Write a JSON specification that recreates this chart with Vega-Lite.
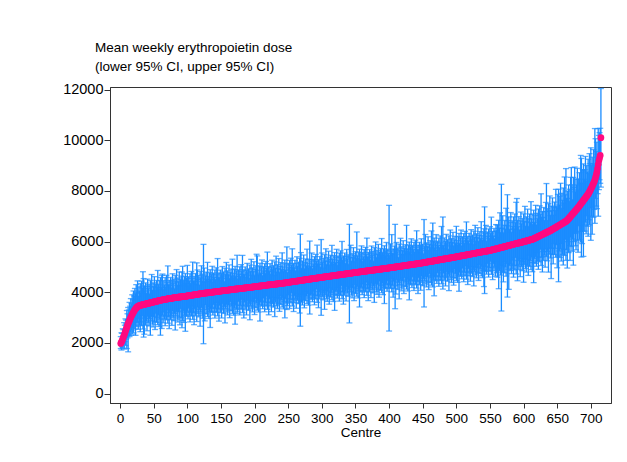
{
"$schema": "https://vega.github.io/schema/vega-lite/v6.json",
"width": 501, "height": 316,
"autosize": {"type": "none"},
"padding": {"left": 110, "top": 87, "right": 16, "bottom": 59},
"background": "white",
"config": {"view": {"stroke": "#333333", "strokeWidth": 1}, "font": "Liberation Sans"},
"title": {"text": ["Mean weekly erythropoietin dose", "(lower 95% CI, upper 95% CI)"], "anchor": "start", "frame": "group", "dx": -15, "fontSize": 13.5, "fontWeight": "normal", "font": "Liberation Sans", "color": "#000000", "lineHeight": 19, "offset": 8},
"data": {"values": [
{"c":1,"m":1980,"l":1780,"u":2250},{"c":2,"m":2030,"l":1720,"u":2400},{"c":3,"m":2090,"l":1850,"u":2380},{"c":4,"m":2160,"l":1800,"u":2560},{"c":5,"m":2230,"l":1950,"u":2520},
{"c":6,"m":2300,"l":1760,"u":2800},{"c":7,"m":2380,"l":2050,"u":2700},{"c":8,"m":2460,"l":1900,"u":2950},{"c":9,"m":2540,"l":2150,"u":2900},{"c":10,"m":2620,"l":1780,"u":3280},
{"c":11,"m":2690,"l":2200,"u":3150},{"c":12,"m":2760,"l":1650,"u":3400},{"c":13,"m":2830,"l":2300,"u":3300},{"c":14,"m":2890,"l":2250,"u":3600},{"c":15,"m":2950,"l":2450,"u":3450},
{"c":16,"m":3010,"l":2300,"u":3750},{"c":17,"m":3070,"l":2500,"u":3550},{"c":18,"m":3120,"l":2350,"u":3900},{"c":19,"m":3170,"l":2600,"u":3700},{"c":20,"m":3220,"l":2400,"u":4050},
{"c":21,"m":3270,"l":2700,"u":3850},{"c":22,"m":3310,"l":2550,"u":4150},{"c":23,"m":3350,"l":2300,"u":3950},{"c":24,"m":3380,"l":2800,"u":4300},{"c":25,"m":3410,"l":2650,"u":4000},
{"c":26,"m":3430,"l":2830,"u":4450},{"c":27,"m":3450,"l":2540,"u":3840},{"c":28,"m":3465,"l":2975,"u":4215},{"c":29,"m":3475,"l":2705,"u":4045},{"c":30,"m":3485,"l":2445,"u":4345},
{"c":31,"m":3490,"l":2830,"u":3970},{"c":32,"m":3500,"l":2680,"u":4440},{"c":33,"m":3505,"l":3075,"u":4165},{"c":34,"m":3510,"l":2550,"u":4810},{"c":35,"m":3520,"l":2230,"u":4540},
{"c":36,"m":3525,"l":2345,"u":4245},{"c":37,"m":3530,"l":2980,"u":4050},{"c":38,"m":3540,"l":2700,"u":4370},{"c":39,"m":3545,"l":2865,"u":3955},{"c":40,"m":3550,"l":2480,"u":4240},
{"c":41,"m":3560,"l":3050,"u":4520},{"c":42,"m":3565,"l":2805,"u":4145},{"c":43,"m":3570,"l":2670,"u":4310},{"c":44,"m":3580,"l":2960,"u":3930},{"c":45,"m":3585,"l":2305,"u":4465},
{"c":46,"m":3590,"l":2870,"u":4210},{"c":47,"m":3600,"l":3060,"u":4700},{"c":48,"m":3605,"l":2745,"u":4075},{"c":49,"m":3610,"l":2630,"u":4370},{"c":50,"m":3620,"l":3040,"u":4220},
{"c":51,"m":3625,"l":2835,"u":4615},{"c":52,"m":3630,"l":2530,"u":4060},{"c":53,"m":3640,"l":3170,"u":4320},{"c":54,"m":3645,"l":2815,"u":4465},{"c":55,"m":3650,"l":3000,"u":4190},
{"c":56,"m":3660,"l":2720,"u":4860},{"c":57,"m":3665,"l":3105,"u":4305},{"c":58,"m":3670,"l":2650,"u":4130},{"c":59,"m":3680,"l":2940,"u":4460},{"c":60,"m":3685,"l":2305,"u":4585},
{"c":61,"m":3690,"l":3060,"u":4190},{"c":62,"m":3695,"l":2570,"u":4670},{"c":63,"m":3700,"l":3100,"u":4720},{"c":64,"m":3705,"l":2795,"u":4095},{"c":65,"m":3710,"l":3220,"u":4460},
{"c":66,"m":3715,"l":2945,"u":4285},{"c":67,"m":3720,"l":2680,"u":4580},{"c":68,"m":3725,"l":3065,"u":4205},{"c":69,"m":3730,"l":2910,"u":4670},{"c":70,"m":3735,"l":3305,"u":4395},
{"c":71,"m":3740,"l":2780,"u":5040},{"c":72,"m":3745,"l":3045,"u":4295},{"c":73,"m":3745,"l":2565,"u":4465},{"c":74,"m":3750,"l":3200,"u":4270},{"c":75,"m":3755,"l":2915,"u":4585},
{"c":76,"m":3760,"l":3080,"u":4170},{"c":77,"m":3765,"l":2695,"u":4455},{"c":78,"m":3770,"l":3260,"u":4730},{"c":79,"m":3775,"l":3015,"u":4355},{"c":80,"m":3780,"l":2880,"u":4520},
{"c":81,"m":3785,"l":3165,"u":4135},{"c":82,"m":3790,"l":2510,"u":4670},{"c":83,"m":3790,"l":3070,"u":4410},{"c":84,"m":3795,"l":3255,"u":4895},{"c":85,"m":3800,"l":2940,"u":4270},
{"c":86,"m":3805,"l":2825,"u":4565},{"c":87,"m":3810,"l":3230,"u":4410},{"c":88,"m":3810,"l":3020,"u":4800},{"c":89,"m":3815,"l":2715,"u":4245},{"c":90,"m":3820,"l":3350,"u":4500},
{"c":91,"m":3820,"l":2990,"u":4640},{"c":92,"m":3825,"l":2600,"u":4800},{"c":93,"m":3825,"l":2885,"u":5025},{"c":94,"m":3830,"l":3270,"u":4470},{"c":95,"m":3830,"l":2810,"u":4290},
{"c":96,"m":3835,"l":3095,"u":4615},{"c":97,"m":3840,"l":2460,"u":4740},{"c":98,"m":3845,"l":3215,"u":4345},{"c":99,"m":3850,"l":3050,"u":4560},{"c":100,"m":3855,"l":3255,"u":5060},
{"c":101,"m":3860,"l":2950,"u":4250},{"c":102,"m":3865,"l":3375,"u":4615},{"c":103,"m":3870,"l":3100,"u":4440},{"c":104,"m":3870,"l":2830,"u":4730},{"c":105,"m":3875,"l":3215,"u":4355},
{"c":106,"m":3880,"l":3060,"u":4820},{"c":107,"m":3885,"l":3455,"u":4545},{"c":108,"m":3890,"l":2930,"u":5190},{"c":109,"m":3895,"l":3195,"u":4445},{"c":110,"m":3900,"l":2720,"u":4620},
{"c":111,"m":3905,"l":3355,"u":4425},{"c":112,"m":3910,"l":3070,"u":4740},{"c":113,"m":3910,"l":3230,"u":4320},{"c":114,"m":3915,"l":2845,"u":5160},{"c":115,"m":3920,"l":3410,"u":4880},
{"c":116,"m":3925,"l":3165,"u":4505},{"c":117,"m":3930,"l":3030,"u":4670},{"c":118,"m":3935,"l":3315,"u":4285},{"c":119,"m":3940,"l":2660,"u":4820},{"c":120,"m":3945,"l":3225,"u":4565},
{"c":121,"m":3945,"l":3405,"u":5045},{"c":122,"m":3950,"l":3090,"u":4420},{"c":123,"m":3955,"l":2975,"u":4715},{"c":124,"m":3960,"l":1970,"u":5890},{"c":125,"m":3965,"l":3175,"u":4955},
{"c":126,"m":3970,"l":2870,"u":4400},{"c":127,"m":3970,"l":3500,"u":4650},{"c":128,"m":3975,"l":3145,"u":4795},{"c":129,"m":3975,"l":3325,"u":4515},{"c":130,"m":3980,"l":3040,"u":5180},
{"c":131,"m":3980,"l":3420,"u":4620},{"c":132,"m":3985,"l":2965,"u":4445},{"c":133,"m":3985,"l":3245,"u":4765},{"c":134,"m":3990,"l":2610,"u":4890},{"c":135,"m":3995,"l":3365,"u":4495},
{"c":136,"m":4000,"l":3200,"u":4710},{"c":137,"m":4005,"l":3405,"u":5025},{"c":138,"m":4010,"l":3100,"u":4400},{"c":139,"m":4010,"l":3520,"u":4760},{"c":140,"m":4015,"l":3245,"u":4585},
{"c":141,"m":4020,"l":2980,"u":4880},{"c":142,"m":4020,"l":3360,"u":4500},{"c":143,"m":4025,"l":3205,"u":4965},{"c":144,"m":4030,"l":3600,"u":4690},{"c":145,"m":4030,"l":3070,"u":5330},
{"c":146,"m":4035,"l":3335,"u":4585},{"c":147,"m":4040,"l":2860,"u":4760},{"c":148,"m":4040,"l":3490,"u":4560},{"c":149,"m":4045,"l":3205,"u":4875},{"c":150,"m":4050,"l":3370,"u":4460},
{"c":151,"m":4055,"l":2985,"u":4745},{"c":152,"m":4055,"l":3545,"u":5015},{"c":153,"m":4060,"l":3300,"u":4640},{"c":154,"m":4065,"l":3165,"u":4805},{"c":155,"m":4065,"l":3445,"u":4415},
{"c":156,"m":4070,"l":2790,"u":4950},{"c":157,"m":4075,"l":3355,"u":4695},{"c":158,"m":4075,"l":3535,"u":5175},{"c":159,"m":4080,"l":3220,"u":4550},{"c":160,"m":4085,"l":3105,"u":4845},
{"c":161,"m":4085,"l":3505,"u":4685},{"c":162,"m":4090,"l":3300,"u":5080},{"c":163,"m":4095,"l":2995,"u":4525},{"c":164,"m":4095,"l":3625,"u":4775},{"c":165,"m":4100,"l":3270,"u":4920},
{"c":166,"m":4105,"l":3455,"u":4645},{"c":167,"m":4105,"l":3165,"u":5305},{"c":168,"m":4110,"l":3550,"u":4750},{"c":169,"m":4115,"l":3095,"u":4575},{"c":170,"m":4120,"l":3380,"u":4900},
{"c":171,"m":4120,"l":2740,"u":5020},{"c":172,"m":4125,"l":3495,"u":4625},{"c":173,"m":4130,"l":3330,"u":4840},{"c":174,"m":4130,"l":3160,"u":5460},{"c":175,"m":4135,"l":3225,"u":4525},
{"c":176,"m":4135,"l":3645,"u":4885},{"c":177,"m":4140,"l":3370,"u":4710},{"c":178,"m":4145,"l":3105,"u":5005},{"c":179,"m":4145,"l":3485,"u":4625},{"c":180,"m":4150,"l":3330,"u":5090},
{"c":181,"m":4155,"l":3725,"u":4815},{"c":182,"m":4155,"l":3195,"u":5455},{"c":183,"m":4160,"l":3460,"u":4710},{"c":184,"m":4165,"l":2985,"u":4885},{"c":185,"m":4165,"l":3615,"u":4685},
{"c":186,"m":4170,"l":3330,"u":5000},{"c":187,"m":4175,"l":3495,"u":4585},{"c":188,"m":4175,"l":3105,"u":4865},{"c":189,"m":4180,"l":3670,"u":5140},{"c":190,"m":4185,"l":3425,"u":4765},
{"c":191,"m":4185,"l":3285,"u":4925},{"c":192,"m":4190,"l":3570,"u":4540},{"c":193,"m":4195,"l":2915,"u":5075},{"c":194,"m":4195,"l":3475,"u":4815},{"c":195,"m":4200,"l":3660,"u":5300},
{"c":196,"m":4205,"l":3345,"u":4675},{"c":197,"m":4205,"l":3225,"u":4965},{"c":198,"m":4210,"l":3630,"u":4810},{"c":199,"m":4215,"l":3425,"u":5205},{"c":200,"m":4220,"l":3120,"u":4650},
{"c":201,"m":4225,"l":3755,"u":4905},{"c":202,"m":4225,"l":3395,"u":5045},{"c":203,"m":4230,"l":3580,"u":5500},{"c":204,"m":4235,"l":3295,"u":5435},{"c":205,"m":4235,"l":3675,"u":4875},
{"c":206,"m":4240,"l":3220,"u":4700},{"c":207,"m":4245,"l":3505,"u":5025},{"c":208,"m":4245,"l":2865,"u":5145},{"c":209,"m":4250,"l":3620,"u":4750},{"c":210,"m":4255,"l":3455,"u":4965},
{"c":211,"m":4255,"l":3655,"u":5275},{"c":212,"m":4260,"l":3350,"u":4650},{"c":213,"m":4265,"l":3775,"u":5015},{"c":214,"m":4265,"l":3495,"u":4835},{"c":215,"m":4270,"l":3230,"u":5130},
{"c":216,"m":4275,"l":3615,"u":4755},{"c":217,"m":4275,"l":3455,"u":5215},{"c":218,"m":4280,"l":3850,"u":4940},{"c":219,"m":4285,"l":3325,"u":5585},{"c":220,"m":4290,"l":3590,"u":4840},
{"c":221,"m":4290,"l":3110,"u":5010},{"c":222,"m":4295,"l":3745,"u":4815},{"c":223,"m":4300,"l":3460,"u":5130},{"c":224,"m":4300,"l":3620,"u":4710},{"c":225,"m":4305,"l":3235,"u":4995},
{"c":226,"m":4305,"l":3795,"u":5265},{"c":227,"m":4310,"l":3550,"u":4890},{"c":228,"m":4315,"l":3415,"u":5055},{"c":229,"m":4315,"l":3695,"u":4665},{"c":230,"m":4320,"l":3040,"u":5200},
{"c":231,"m":4325,"l":3605,"u":4945},{"c":232,"m":4325,"l":3785,"u":5425},{"c":233,"m":4330,"l":3470,"u":4800},{"c":234,"m":4335,"l":3355,"u":5095},{"c":235,"m":4335,"l":3755,"u":4935},
{"c":236,"m":4340,"l":3550,"u":5330},{"c":237,"m":4345,"l":3245,"u":4775},{"c":238,"m":4345,"l":3875,"u":5025},{"c":239,"m":4350,"l":3520,"u":5170},{"c":240,"m":4355,"l":3705,"u":4895},
{"c":241,"m":4355,"l":3415,"u":5555},{"c":242,"m":4360,"l":3800,"u":5000},{"c":243,"m":4365,"l":3345,"u":4825},{"c":244,"m":4365,"l":3625,"u":5145},{"c":245,"m":4370,"l":2990,"u":5270},
{"c":246,"m":4375,"l":3745,"u":4875},{"c":247,"m":4375,"l":3575,"u":5085},{"c":248,"m":4380,"l":3320,"u":5790},{"c":249,"m":4385,"l":3475,"u":4775},{"c":250,"m":4390,"l":3900,"u":5140},
{"c":251,"m":4395,"l":3625,"u":4965},{"c":252,"m":4400,"l":3360,"u":5260},{"c":253,"m":4400,"l":3740,"u":4880},{"c":254,"m":4405,"l":3585,"u":5345},{"c":255,"m":4410,"l":3980,"u":5070},
{"c":256,"m":4415,"l":3455,"u":5715},{"c":257,"m":4420,"l":3720,"u":4970},{"c":258,"m":4420,"l":3240,"u":5140},{"c":259,"m":4425,"l":3875,"u":4945},{"c":260,"m":4430,"l":3590,"u":5260},
{"c":261,"m":4435,"l":3755,"u":4845},{"c":262,"m":4440,"l":3370,"u":5130},{"c":263,"m":4440,"l":3930,"u":5400},{"c":264,"m":4445,"l":3685,"u":5025},{"c":265,"m":4450,"l":3550,"u":5190},
{"c":266,"m":4455,"l":3835,"u":4805},{"c":267,"m":4460,"l":3180,"u":5340},{"c":268,"m":4460,"l":2660,"u":6290},{"c":269,"m":4465,"l":3925,"u":5565},{"c":270,"m":4470,"l":3610,"u":4940},
{"c":271,"m":4475,"l":3495,"u":5235},{"c":272,"m":4480,"l":3900,"u":5080},{"c":273,"m":4480,"l":3690,"u":5470},{"c":274,"m":4485,"l":3385,"u":4915},{"c":275,"m":4490,"l":4020,"u":5170},
{"c":276,"m":4495,"l":3665,"u":5315},{"c":277,"m":4500,"l":3850,"u":5040},{"c":278,"m":4500,"l":3560,"u":5700},{"c":279,"m":4505,"l":3945,"u":5145},{"c":280,"m":4510,"l":3490,"u":4970},
{"c":281,"m":4515,"l":3775,"u":5295},{"c":282,"m":4520,"l":3140,"u":6020},{"c":283,"m":4520,"l":3890,"u":5020},{"c":284,"m":4525,"l":3725,"u":5235},{"c":285,"m":4530,"l":3930,"u":5550},
{"c":286,"m":4535,"l":3625,"u":4925},{"c":287,"m":4540,"l":4050,"u":5290},{"c":288,"m":4540,"l":3770,"u":5110},{"c":289,"m":4545,"l":3505,"u":5405},{"c":290,"m":4550,"l":3890,"u":5030},
{"c":291,"m":4555,"l":3735,"u":5495},{"c":292,"m":4560,"l":4130,"u":5220},{"c":293,"m":4560,"l":3600,"u":5860},{"c":294,"m":4565,"l":3865,"u":5115},{"c":295,"m":4570,"l":3390,"u":5290},
{"c":296,"m":4575,"l":4025,"u":5095},{"c":297,"m":4580,"l":3740,"u":5410},{"c":298,"m":4580,"l":3900,"u":4990},{"c":299,"m":4585,"l":3090,"u":6080},{"c":300,"m":4590,"l":4080,"u":5550},
{"c":301,"m":4595,"l":3835,"u":5175},{"c":302,"m":4600,"l":3700,"u":5340},{"c":303,"m":4600,"l":3980,"u":4950},{"c":304,"m":4605,"l":3325,"u":5485},{"c":305,"m":4610,"l":3890,"u":5230},
{"c":306,"m":4615,"l":4075,"u":5715},{"c":307,"m":4615,"l":3755,"u":5085},{"c":308,"m":4620,"l":3640,"u":5380},{"c":309,"m":4625,"l":4045,"u":5225},{"c":310,"m":4630,"l":3840,"u":5620},
{"c":311,"m":4630,"l":3530,"u":5060},{"c":312,"m":4635,"l":4165,"u":5315},{"c":313,"m":4640,"l":3810,"u":5460},{"c":314,"m":4645,"l":3995,"u":5185},{"c":315,"m":4650,"l":3710,"u":5850},
{"c":316,"m":4650,"l":4090,"u":5290},{"c":317,"m":4655,"l":3635,"u":5115},{"c":318,"m":4660,"l":3920,"u":5440},{"c":319,"m":4665,"l":3285,"u":5565},{"c":320,"m":4665,"l":4035,"u":5165},
{"c":321,"m":4670,"l":3870,"u":5380},{"c":322,"m":4675,"l":4075,"u":5695},{"c":323,"m":4680,"l":3770,"u":5070},{"c":324,"m":4680,"l":4190,"u":5430},{"c":325,"m":4685,"l":3915,"u":5255},
{"c":326,"m":4690,"l":3650,"u":5550},{"c":327,"m":4695,"l":4035,"u":5175},{"c":328,"m":4695,"l":3875,"u":5635},{"c":329,"m":4700,"l":4270,"u":5360},{"c":330,"m":4705,"l":3745,"u":6005},
{"c":331,"m":4710,"l":4010,"u":5260},{"c":332,"m":4710,"l":3530,"u":5430},{"c":333,"m":4715,"l":4165,"u":5235},{"c":334,"m":4720,"l":3880,"u":5550},{"c":335,"m":4725,"l":4045,"u":5135},
{"c":336,"m":4725,"l":3655,"u":5415},{"c":337,"m":4730,"l":4220,"u":5690},{"c":338,"m":4735,"l":3975,"u":5315},{"c":339,"m":4740,"l":3840,"u":5480},{"c":340,"m":4740,"l":4120,"u":5090},
{"c":341,"m":4745,"l":2790,"u":6680},{"c":342,"m":4750,"l":4030,"u":5370},{"c":343,"m":4755,"l":4215,"u":5855},{"c":344,"m":4755,"l":3895,"u":5225},{"c":345,"m":4760,"l":3780,"u":5520},
{"c":346,"m":4765,"l":4185,"u":5365},{"c":347,"m":4770,"l":3980,"u":5760},{"c":348,"m":4770,"l":3670,"u":5200},{"c":349,"m":4775,"l":4305,"u":5455},{"c":350,"m":4780,"l":3950,"u":5600},
{"c":351,"m":4785,"l":4135,"u":5325},{"c":352,"m":4785,"l":3845,"u":6380},{"c":353,"m":4790,"l":4230,"u":5430},{"c":354,"m":4795,"l":3775,"u":5255},{"c":355,"m":4800,"l":4060,"u":5580},
{"c":356,"m":4800,"l":3420,"u":5700},{"c":357,"m":4805,"l":4175,"u":5305},{"c":358,"m":4810,"l":4010,"u":5520},{"c":359,"m":4810,"l":4210,"u":5830},{"c":360,"m":4815,"l":3905,"u":5205},
{"c":361,"m":4820,"l":4330,"u":5570},{"c":362,"m":4825,"l":4055,"u":5395},{"c":363,"m":4825,"l":3785,"u":5685},{"c":364,"m":4830,"l":4170,"u":5310},{"c":365,"m":4835,"l":4015,"u":5775},
{"c":366,"m":4835,"l":4405,"u":5495},{"c":367,"m":4840,"l":3880,"u":6140},{"c":368,"m":4845,"l":4145,"u":5395},{"c":369,"m":4850,"l":3670,"u":5570},{"c":370,"m":4850,"l":4300,"u":5370},
{"c":371,"m":4855,"l":4015,"u":5685},{"c":372,"m":4860,"l":4180,"u":5270},{"c":373,"m":4860,"l":3790,"u":5550},{"c":374,"m":4865,"l":4355,"u":5825},{"c":375,"m":4870,"l":4110,"u":5450},
{"c":376,"m":4875,"l":3975,"u":5615},{"c":377,"m":4875,"l":4255,"u":5225},{"c":378,"m":4880,"l":3600,"u":5760},{"c":379,"m":4885,"l":4165,"u":5505},{"c":380,"m":4885,"l":4345,"u":5985},
{"c":381,"m":4890,"l":4030,"u":5360},{"c":382,"m":4895,"l":3915,"u":5655},{"c":383,"m":4900,"l":4320,"u":5500},{"c":384,"m":4900,"l":4110,"u":5890},{"c":385,"m":4905,"l":3805,"u":5335},
{"c":386,"m":4910,"l":4440,"u":5590},{"c":387,"m":4910,"l":4080,"u":5730},{"c":388,"m":4915,"l":4265,"u":5455},{"c":389,"m":4920,"l":3980,"u":6120},{"c":390,"m":4925,"l":4365,"u":5565},
{"c":391,"m":4925,"l":3905,"u":5385},{"c":392,"m":4930,"l":4190,"u":5710},{"c":393,"m":4935,"l":3555,"u":5835},{"c":394,"m":4935,"l":4305,"u":5435},{"c":395,"m":4940,"l":4140,"u":5650},
{"c":396,"m":4945,"l":4345,"u":5965},{"c":397,"m":4950,"l":4040,"u":5340},{"c":398,"m":4950,"l":4460,"u":5700},{"c":399,"m":4955,"l":4185,"u":5525},{"c":400,"m":4960,"l":2470,"u":7430},
{"c":401,"m":4965,"l":4305,"u":5445},{"c":402,"m":4970,"l":4150,"u":5910},{"c":403,"m":4970,"l":4540,"u":5630},{"c":404,"m":4975,"l":4015,"u":6275},{"c":405,"m":4980,"l":4280,"u":5530},
{"c":406,"m":4985,"l":3805,"u":5705},{"c":407,"m":4990,"l":4440,"u":5510},{"c":408,"m":4990,"l":4150,"u":5820},{"c":409,"m":4995,"l":3350,"u":6680},{"c":410,"m":5000,"l":3930,"u":5690},
{"c":411,"m":5005,"l":4495,"u":5965},{"c":412,"m":5010,"l":4250,"u":5590},{"c":413,"m":5010,"l":4110,"u":5750},{"c":414,"m":5015,"l":4395,"u":5365},{"c":415,"m":5020,"l":3740,"u":5900},
{"c":416,"m":5025,"l":4305,"u":5645},{"c":417,"m":5030,"l":4490,"u":6130},{"c":418,"m":5030,"l":4170,"u":5500},{"c":419,"m":5035,"l":4055,"u":5795},{"c":420,"m":5040,"l":4460,"u":5640},
{"c":421,"m":5045,"l":4255,"u":6035},{"c":422,"m":5050,"l":3950,"u":5480},{"c":423,"m":5050,"l":4580,"u":5730},{"c":424,"m":5055,"l":4225,"u":5875},{"c":425,"m":5060,"l":4410,"u":5600},
{"c":426,"m":5065,"l":4125,"u":6640},{"c":427,"m":5070,"l":4510,"u":5710},{"c":428,"m":5070,"l":4050,"u":5530},{"c":429,"m":5075,"l":4335,"u":5855},{"c":430,"m":5080,"l":3700,"u":5980},
{"c":431,"m":5085,"l":4455,"u":5585},{"c":432,"m":5090,"l":4290,"u":5800},{"c":433,"m":5090,"l":4490,"u":6110},{"c":434,"m":5095,"l":4185,"u":5485},{"c":435,"m":5100,"l":4610,"u":5850},
{"c":436,"m":5105,"l":4335,"u":5675},{"c":437,"m":5110,"l":4070,"u":5970},{"c":438,"m":5110,"l":4450,"u":5590},{"c":439,"m":5115,"l":4295,"u":6055},{"c":440,"m":5120,"l":4690,"u":5780},
{"c":441,"m":5125,"l":4165,"u":6425},{"c":442,"m":5130,"l":4430,"u":5680},{"c":443,"m":5130,"l":3950,"u":5850},{"c":444,"m":5135,"l":4585,"u":5655},{"c":445,"m":5140,"l":4300,"u":5970},
{"c":446,"m":5145,"l":4465,"u":5555},{"c":447,"m":5150,"l":4080,"u":5840},{"c":448,"m":5150,"l":4640,"u":6110},{"c":449,"m":5155,"l":4395,"u":5735},{"c":450,"m":5160,"l":4260,"u":5900},
{"c":451,"m":5165,"l":4545,"u":5515},{"c":452,"m":5170,"l":3420,"u":6870},{"c":453,"m":5175,"l":4455,"u":5795},{"c":454,"m":5180,"l":4640,"u":6280},{"c":455,"m":5185,"l":4325,"u":5655},
{"c":456,"m":5190,"l":4210,"u":5950},{"c":457,"m":5195,"l":4615,"u":5795},{"c":458,"m":5200,"l":4410,"u":6190},{"c":459,"m":5205,"l":4105,"u":5635},{"c":460,"m":5210,"l":4740,"u":5890},
{"c":461,"m":5215,"l":4385,"u":6035},{"c":462,"m":5220,"l":4570,"u":5760},{"c":463,"m":5220,"l":4280,"u":6420},{"c":464,"m":5225,"l":4665,"u":5865},{"c":465,"m":5230,"l":4210,"u":6730},
{"c":466,"m":5235,"l":4495,"u":6015},{"c":467,"m":5240,"l":3860,"u":6140},{"c":468,"m":5245,"l":4615,"u":5745},{"c":469,"m":5250,"l":4450,"u":5960},{"c":470,"m":5255,"l":4655,"u":6275},
{"c":471,"m":5260,"l":4350,"u":5650},{"c":472,"m":5265,"l":4775,"u":6015},{"c":473,"m":5270,"l":4500,"u":5840},{"c":474,"m":5275,"l":4235,"u":6135},{"c":475,"m":5280,"l":4620,"u":5760},
{"c":476,"m":5285,"l":4465,"u":6225},{"c":477,"m":5290,"l":4860,"u":5950},{"c":478,"m":5295,"l":4335,"u":6595},{"c":479,"m":5300,"l":4600,"u":5850},{"c":480,"m":5305,"l":4125,"u":6970},
{"c":481,"m":5310,"l":4760,"u":5830},{"c":482,"m":5315,"l":4475,"u":6145},{"c":483,"m":5320,"l":4640,"u":5730},{"c":484,"m":5320,"l":4250,"u":6010},{"c":485,"m":5325,"l":4815,"u":6285},
{"c":486,"m":5330,"l":4570,"u":5910},{"c":487,"m":5335,"l":4435,"u":6075},{"c":488,"m":5340,"l":4720,"u":5690},{"c":489,"m":5345,"l":4065,"u":6225},{"c":490,"m":5350,"l":4630,"u":5970},
{"c":491,"m":5355,"l":4815,"u":6455},{"c":492,"m":5360,"l":4500,"u":5830},{"c":493,"m":5365,"l":4385,"u":6125},{"c":494,"m":5370,"l":4790,"u":5970},{"c":495,"m":5375,"l":4585,"u":6365},
{"c":496,"m":5380,"l":4280,"u":5810},{"c":497,"m":5385,"l":4915,"u":6065},{"c":498,"m":5390,"l":4560,"u":6210},{"c":499,"m":5395,"l":4745,"u":5935},{"c":500,"m":5400,"l":4460,"u":6600},
{"c":501,"m":5405,"l":4845,"u":6045},{"c":502,"m":5410,"l":4390,"u":5870},{"c":503,"m":5415,"l":4675,"u":6195},{"c":504,"m":5420,"l":4040,"u":6320},{"c":505,"m":5425,"l":4795,"u":5925},
{"c":506,"m":5430,"l":4630,"u":6140},{"c":507,"m":5435,"l":4835,"u":6455},{"c":508,"m":5440,"l":4530,"u":5830},{"c":509,"m":5445,"l":4955,"u":6195},{"c":510,"m":5450,"l":4680,"u":6020},
{"c":511,"m":5455,"l":4415,"u":6315},{"c":512,"m":5460,"l":4800,"u":5940},{"c":513,"m":5465,"l":4645,"u":6405},{"c":514,"m":5470,"l":5040,"u":6130},{"c":515,"m":5475,"l":4515,"u":6775},
{"c":516,"m":5480,"l":4780,"u":6030},{"c":517,"m":5485,"l":4305,"u":6205},{"c":518,"m":5490,"l":4940,"u":6010},{"c":519,"m":5495,"l":4655,"u":6325},{"c":520,"m":5500,"l":4820,"u":5910},
{"c":521,"m":5505,"l":4435,"u":6195},{"c":522,"m":5510,"l":5000,"u":6470},{"c":523,"m":5515,"l":4755,"u":6095},{"c":524,"m":5520,"l":4620,"u":6260},{"c":525,"m":5525,"l":4905,"u":5875},
{"c":526,"m":5530,"l":4250,"u":6410},{"c":527,"m":5535,"l":4815,"u":6155},{"c":528,"m":5540,"l":5000,"u":6640},{"c":529,"m":5545,"l":4685,"u":6015},{"c":530,"m":5550,"l":4570,"u":6310},
{"c":531,"m":5555,"l":4975,"u":6155},{"c":532,"m":5560,"l":4770,"u":6550},{"c":533,"m":5565,"l":4465,"u":5995},{"c":534,"m":5570,"l":5100,"u":6250},{"c":535,"m":5575,"l":4745,"u":6395},
{"c":536,"m":5580,"l":4930,"u":6120},{"c":537,"m":5585,"l":4645,"u":6785},{"c":538,"m":5590,"l":5030,"u":6230},{"c":539,"m":5595,"l":4575,"u":6055},{"c":540,"m":5600,"l":4860,"u":6380},
{"c":541,"m":5605,"l":4225,"u":6505},{"c":542,"m":5610,"l":3950,"u":7370},{"c":543,"m":5615,"l":4815,"u":6325},{"c":544,"m":5620,"l":5020,"u":6640},{"c":545,"m":5625,"l":4715,"u":6015},
{"c":546,"m":5630,"l":5140,"u":6380},{"c":547,"m":5635,"l":4865,"u":6205},{"c":548,"m":5640,"l":4600,"u":6500},{"c":549,"m":5645,"l":4985,"u":6125},{"c":550,"m":5650,"l":4830,"u":6590},
{"c":551,"m":5655,"l":5225,"u":6315},{"c":552,"m":5665,"l":4705,"u":6965},{"c":553,"m":5670,"l":4970,"u":6220},{"c":554,"m":5680,"l":4500,"u":6400},{"c":555,"m":5685,"l":5135,"u":6205},
{"c":556,"m":5690,"l":4850,"u":6520},{"c":557,"m":5700,"l":5020,"u":6110},{"c":558,"m":5705,"l":4635,"u":6395},{"c":559,"m":5710,"l":5200,"u":6670},{"c":560,"m":5720,"l":4770,"u":6450},
{"c":561,"m":5725,"l":4595,"u":6655},{"c":562,"m":5735,"l":4955,"u":6175},{"c":563,"m":5740,"l":4140,"u":6840},{"c":564,"m":5745,"l":4845,"u":6525},{"c":565,"m":5755,"l":5075,"u":7135},
{"c":566,"m":5760,"l":4680,"u":6350},{"c":567,"m":5770,"l":3260,"u":8260},{"c":568,"m":5775,"l":5045,"u":6525},{"c":569,"m":5780,"l":4790,"u":7020},{"c":570,"m":5790,"l":4410,"u":6330},
{"c":571,"m":5795,"l":5205,"u":6645},{"c":572,"m":5805,"l":4765,"u":6835},{"c":573,"m":5810,"l":5000,"u":6490},{"c":574,"m":5815,"l":4635,"u":7315},{"c":575,"m":5825,"l":5125,"u":6625},
{"c":576,"m":5830,"l":3810,"u":7850},{"c":577,"m":5840,"l":4910,"u":6820},{"c":578,"m":5845,"l":4115,"u":6975},{"c":579,"m":5850,"l":5060,"u":6480},{"c":580,"m":5860,"l":4860,"u":6750},
{"c":581,"m":5865,"l":5115,"u":7145},{"c":582,"m":5875,"l":4735,"u":6365},{"c":583,"m":5880,"l":5270,"u":6820},{"c":584,"m":5885,"l":4925,"u":6595},{"c":585,"m":5895,"l":4595,"u":6975},
{"c":586,"m":5900,"l":5070,"u":6500},{"c":587,"m":5910,"l":4880,"u":7090},{"c":588,"m":5915,"l":5375,"u":6745},{"c":589,"m":5920,"l":4720,"u":7550},{"c":590,"m":5930,"l":5050,"u":7700},
{"c":591,"m":5935,"l":4455,"u":6835},{"c":592,"m":5940,"l":5250,"u":6590},{"c":593,"m":5945,"l":4895,"u":6985},{"c":594,"m":5950,"l":5100,"u":6460},{"c":595,"m":5955,"l":4615,"u":6815},
{"c":596,"m":5965,"l":5325,"u":7165},{"c":597,"m":5970,"l":5020,"u":6700},{"c":598,"m":5980,"l":4850,"u":6910},{"c":599,"m":5985,"l":5205,"u":6425},{"c":600,"m":5995,"l":4395,"u":7095},
{"c":601,"m":6000,"l":5100,"u":6780},{"c":602,"m":6010,"l":5330,"u":7390},{"c":603,"m":6015,"l":4935,"u":6605},{"c":604,"m":6025,"l":4795,"u":6975},{"c":605,"m":6030,"l":5300,"u":6780},
{"c":606,"m":6040,"l":5050,"u":7280},{"c":607,"m":6045,"l":4665,"u":6585},{"c":608,"m":6055,"l":5465,"u":6905},{"c":609,"m":6060,"l":5020,"u":7090},{"c":610,"m":6070,"l":5260,"u":6750},
{"c":611,"m":6075,"l":4895,"u":7575},{"c":612,"m":6085,"l":5385,"u":6885},{"c":613,"m":6090,"l":4810,"u":6670},{"c":614,"m":6100,"l":5170,"u":7080},{"c":615,"m":6110,"l":4380,"u":7240},
{"c":616,"m":6125,"l":5335,"u":6755},{"c":617,"m":6140,"l":5140,"u":7030},{"c":618,"m":6150,"l":5400,"u":7430},{"c":619,"m":6165,"l":5025,"u":6655},{"c":620,"m":6175,"l":5565,"u":7115},
{"c":621,"m":6190,"l":5230,"u":6900},{"c":622,"m":6205,"l":4905,"u":7285},{"c":623,"m":6215,"l":5385,"u":6815},{"c":624,"m":6230,"l":5200,"u":7410},{"c":625,"m":6240,"l":5700,"u":7070},
{"c":626,"m":6255,"l":5055,"u":7885},{"c":627,"m":6270,"l":5390,"u":6960},{"c":628,"m":6280,"l":4800,"u":7180},{"c":629,"m":6295,"l":5605,"u":6945},{"c":630,"m":6305,"l":5255,"u":7345},
{"c":631,"m":6320,"l":5470,"u":6830},{"c":632,"m":6330,"l":4990,"u":7190},{"c":633,"m":6345,"l":5705,"u":7545},{"c":634,"m":6360,"l":5410,"u":8290},{"c":635,"m":6370,"l":5240,"u":7300},
{"c":636,"m":6385,"l":5605,"u":6825},{"c":637,"m":6395,"l":4795,"u":7495},{"c":638,"m":6410,"l":5510,"u":7190},{"c":639,"m":6420,"l":5740,"u":7800},{"c":640,"m":6435,"l":5355,"u":7025},
{"c":641,"m":6450,"l":4540,"u":7400},{"c":642,"m":6470,"l":5740,"u":7220},{"c":643,"m":6485,"l":5495,"u":7725},{"c":644,"m":6500,"l":5120,"u":7040},{"c":645,"m":6515,"l":5925,"u":7365},
{"c":646,"m":6530,"l":5490,"u":7560},{"c":647,"m":6545,"l":5735,"u":7225},{"c":648,"m":6560,"l":5380,"u":8060},{"c":649,"m":6580,"l":5880,"u":7380},{"c":650,"m":6595,"l":4965,"u":7335},
{"c":651,"m":6610,"l":5430,"u":7860},{"c":652,"m":6625,"l":4415,"u":8065},{"c":653,"m":6640,"l":5630,"u":7440},{"c":654,"m":6655,"l":5375,"u":7795},{"c":655,"m":6670,"l":5710,"u":8300},
{"c":656,"m":6690,"l":5230,"u":7310},{"c":657,"m":6705,"l":5925,"u":7905},{"c":658,"m":6720,"l":5490,"u":7630},{"c":659,"m":6735,"l":5075,"u":8115},{"c":660,"m":6750,"l":5690,"u":7520},
{"c":661,"m":6765,"l":5455,"u":8550},{"c":662,"m":6785,"l":6095,"u":7845},{"c":663,"m":6800,"l":5260,"u":8880},{"c":664,"m":6815,"l":5695,"u":7695},{"c":665,"m":6845,"l":4955,"u":7995},
{"c":666,"m":6875,"l":5995,"u":7705},{"c":667,"m":6905,"l":5565,"u":8235},{"c":668,"m":6935,"l":5845,"u":7595},{"c":669,"m":6965,"l":5255,"u":8065},{"c":670,"m":6995,"l":6175,"u":8535},
{"c":671,"m":7025,"l":5805,"u":8920},{"c":672,"m":7060,"l":5620,"u":8240},{"c":673,"m":7090,"l":6100,"u":7650},{"c":674,"m":7120,"l":5070,"u":8530},{"c":675,"m":7150,"l":6000,"u":8140},
{"c":676,"m":7180,"l":6320,"u":8940},{"c":677,"m":7215,"l":5835,"u":7965},{"c":678,"m":7245,"l":5675,"u":8465},{"c":679,"m":7275,"l":6345,"u":8235},{"c":680,"m":7310,"l":6050,"u":8890},
{"c":681,"m":7340,"l":5580,"u":8030},{"c":682,"m":7375,"l":6625,"u":8465},{"c":683,"m":7410,"l":6080,"u":8720},{"c":684,"m":7445,"l":6405,"u":8305},{"c":685,"m":7480,"l":5980,"u":9400},
{"c":686,"m":7515,"l":5390,"u":9280},{"c":687,"m":7550,"l":5920,"u":8290},{"c":688,"m":7585,"l":6405,"u":8835},{"c":689,"m":7625,"l":5415,"u":9065},{"c":690,"m":7660,"l":6650,"u":8460},
{"c":691,"m":7695,"l":6415,"u":8835},{"c":692,"m":7730,"l":6770,"u":9360},{"c":693,"m":7765,"l":6305,"u":8385},{"c":694,"m":7800,"l":7020,"u":9000},{"c":695,"m":7835,"l":6605,"u":8745},
{"c":696,"m":7870,"l":6210,"u":9250},{"c":697,"m":7920,"l":6860,"u":8690},{"c":698,"m":7970,"l":6660,"u":9470},{"c":699,"m":8020,"l":7330,"u":9080},{"c":700,"m":8070,"l":6050,"u":9700},
{"c":701,"m":8120,"l":7000,"u":9000},{"c":702,"m":8180,"l":6290,"u":9330},{"c":703,"m":8240,"l":7360,"u":9070},{"c":704,"m":8300,"l":6960,"u":9630},{"c":705,"m":8360,"l":7270,"u":9020},
{"c":706,"m":8430,"l":6720,"u":10460},{"c":707,"m":8520,"l":7700,"u":10060},{"c":708,"m":8620,"l":7400,"u":9550},{"c":709,"m":8740,"l":7300,"u":9920},{"c":710,"m":8880,"l":7890,"u":9440},
{"c":711,"m":9050,"l":7000,"u":10460},{"c":712,"m":9200,"l":8050,"u":10190},{"c":713,"m":9300,"l":8440,"u":10300},{"c":714,"m":9400,"l":8300,"u":10470},{"c":715,"m":10100,"l":8150,"u":12040}
]},
"encoding": {
  "x": {"field": "c", "type": "quantitative", "scale": {"domain": [-15, 730], "nice": false, "zero": false},
        "axis": {"values": [0,50,100,150,200,250,300,350,400,450,500,550,600,650,700], "tickCount": 15, "labelOverlap": false, "grid": false, "tickSize": 5, "tickColor": "#333333", "domainColor": "#333333", "labelFontSize": 13.5, "labelColor": "#000000", "labelPadding": 3, "labelFlush": false, "title": "Centre", "titleFontSize": 13.5, "titleFontWeight": "normal", "titleColor": "#000000", "titlePadding": 1}}
},
"layer": [
{"mark": {"type": "errorbar", "color": "#1a8cff", "thickness": 1.3, "ticks": {"size": 6, "thickness": 1.3, "color": "#1a8cff"}},
 "encoding": {
  "y": {"field": "l", "type": "quantitative", "scale": {"domain": [-370, 12100], "nice": false, "zero": false},
        "axis": {"values": [0,2000,4000,6000,8000,10000,12000], "format": "d", "labelOverlap": false, "grid": false, "tickSize": 6, "tickColor": "#333333", "domainColor": "#333333", "labelFontSize": 14.5, "labelColor": "#000000", "labelPadding": 1, "title": null}},
  "y2": {"field": "u"}
 }},
{"mark": {"type": "point", "filled": true, "size": 45, "color": "#ff0a80", "opacity": 1},
 "encoding": {
  "y": {"field": "m", "type": "quantitative"}
 }}
]
}
